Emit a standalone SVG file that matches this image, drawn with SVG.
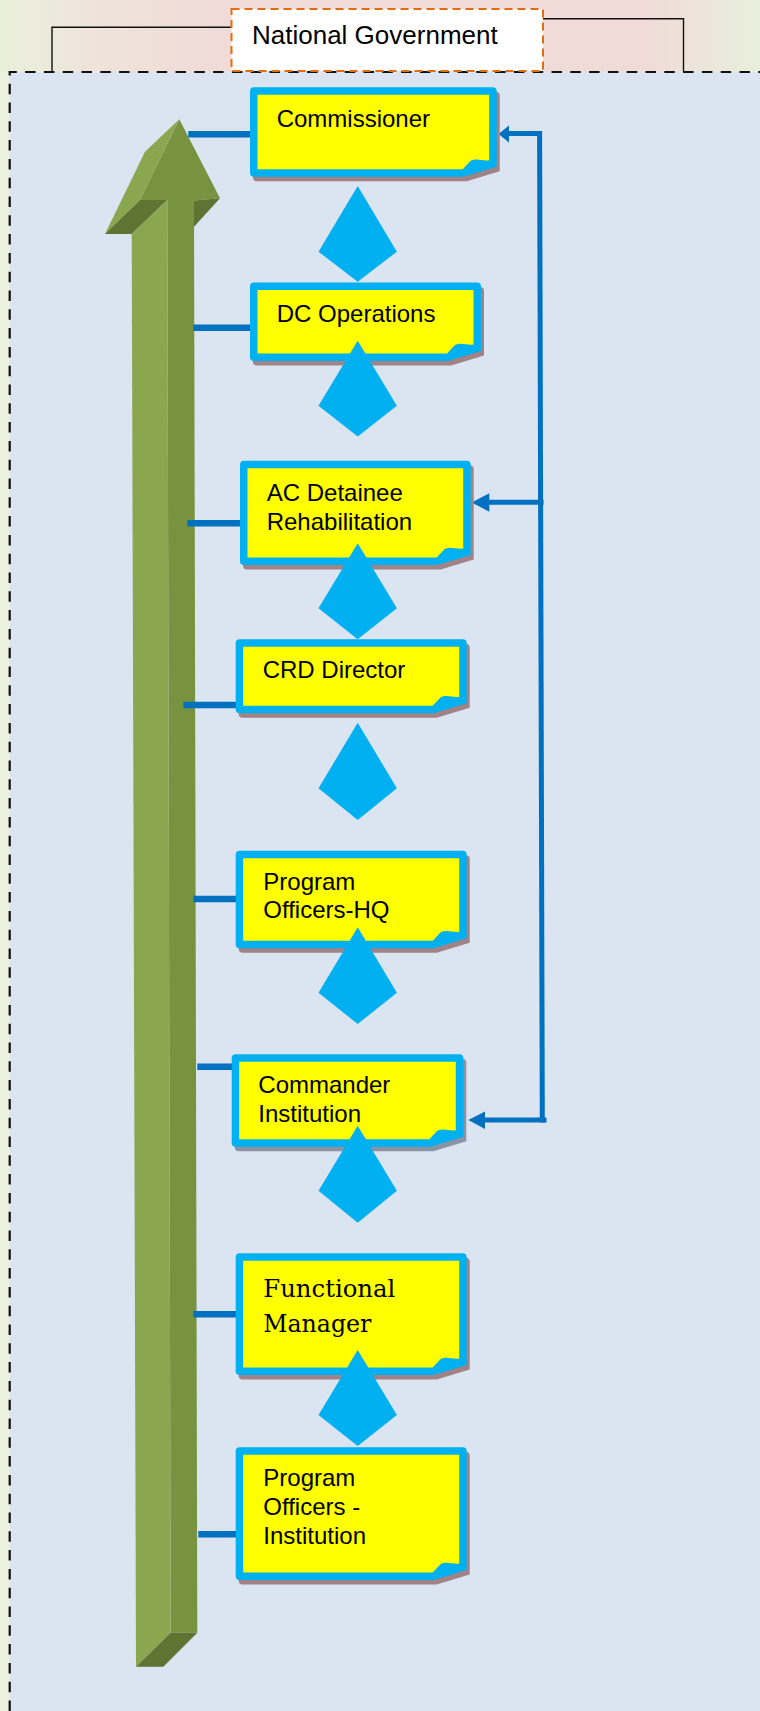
<svg xmlns="http://www.w3.org/2000/svg" width="760" height="1711" viewBox="0 0 760 1711">
  <defs>
    <linearGradient id="topBand" x1="0" y1="0" x2="1" y2="0">
      <stop offset="0" stop-color="#eaf0dc"/>
      <stop offset="0.12" stop-color="#eee4da"/>
      <stop offset="0.28" stop-color="#f0dbd8"/>
      <stop offset="0.85" stop-color="#f0dbd8"/>
      <stop offset="1" stop-color="#e8efdc"/>
    </linearGradient>
    <style>
      .panel { fill: #dbe5f1; }
      .border { fill: none; stroke: #111; stroke-width: 2.2; stroke-dasharray: 10.5 8.3; }
      .bracket { fill: none; stroke: #111; stroke-width: 1.4; }
      .govbox { fill: #fff; stroke: #e46c0a; stroke-width: 2; stroke-dasharray: 8 5; }
      .shadow { fill: #a08287; }
      .shadow-gray { fill: #8a93a6; }
      .frame { fill: #00b0f0; }
      .paper { fill: #ffff00; }
      .label { font-family: "Liberation Sans", Arial, sans-serif; font-size: 24px; fill: #000; }
      .label-serif { font-family: "DejaVu Serif", "Liberation Serif", serif; font-size: 24px; fill: #000; }
      .gov { font-family: "Liberation Sans", Arial, sans-serif; font-size: 26px; fill: #000; }
      .tie { stroke: #0070c0; stroke-width: 6.5; fill: none; }
      .feed { stroke: #0070c0; stroke-width: 5; fill: none; }
      .head { fill: #0070c0; }
      .link { fill: #00b0f0; }
      .g-light { fill: #8aa64f; }
      .g-mid { fill: #779340; }
      .g-dark { fill: #5f7333; }
    </style>
  </defs>

  <!-- page background -->
  <rect x="0" y="0" width="760" height="1711" fill="#ebf1de"/>
  <rect x="0" y="0" width="760" height="72" fill="url(#topBand)"/>
  <rect class="panel" x="9.7" y="72" width="751" height="1640"/>
  <path class="border" d="M9.7,1711 V72 H760"/>

  <!-- heading -->
  <g id="national-government">
    <path class="bracket" d="M52,72 V27.3 H232"/>
    <path class="bracket" d="M543,18.8 H683.5 V72"/>
    <rect class="govbox" x="231.5" y="9" width="311.5" height="62"/>
    <text class="gov" x="252" y="44.3">National Government</text>
  </g>

  <!-- upward 3D arrow -->
  <g id="arrow">
    <polygon class="g-mid" points="179.3,119.3 220,198.3 194,200.5 197.3,1632.7 170.7,1632.7 167.3,200 140,200"/>
    <polygon class="g-light" points="179.3,119.3 145,151.7 105,234 140,200"/>
    <polygon class="g-dark" points="105,234 131.7,234 167.3,200 140,200"/>
    <polygon class="g-dark" points="194,200.5 220,198.3 194,226.7"/>
    <polygon class="g-light" points="131.7,234 167.3,200 170.7,1632.7 136,1666.7"/>
    <polygon class="g-dark" points="136,1666.7 163.3,1666.7 197.3,1632.7 170.7,1632.7"/>
  </g>

  <!-- connectors -->
  <g id="connectors">
    <line class="tie" x1="188.3" y1="134.3" x2="252" y2="134.3"/>
    <line class="tie" x1="193.3" y1="327.7" x2="252" y2="327.7"/>
    <line class="tie" x1="187.3" y1="523.3" x2="242" y2="523.3"/>
    <line class="tie" x1="183.3" y1="705" x2="238" y2="705"/>
    <line class="tie" x1="193.3" y1="899" x2="238" y2="899"/>
    <line class="tie" x1="197.3" y1="1066.7" x2="234" y2="1066.7"/>
    <line class="tie" x1="193.3" y1="1314.3" x2="238" y2="1314.3"/>
    <line class="tie" x1="198.3" y1="1534.3" x2="238" y2="1534.3"/>

    <line class="feed" x1="539.6" y1="131" x2="542.3" y2="1122.5"/>
    <line class="feed" x1="542" y1="133.5" x2="506" y2="133.5"/>
    <line class="feed" x1="543.5" y1="502.3" x2="486" y2="502.3"/>
    <line class="feed" x1="546.5" y1="1120" x2="482" y2="1120"/>
    <polygon class="head" points="498.5,134 509,125.5 509,142.5"/>
    <polygon class="head" points="471.7,502.5 489.3,493.3 489.3,511.7"/>
    <polygon class="head" points="468.3,1120 485,1111.5 485,1129"/>
  </g>

  <g id="node-commissioner">
    <path class="shadow" transform="translate(3,4.5)" d="M254,87.3 H492.7 Q496.7,87.3 496.7,91.3 V166.7 L463.7,176.7 H254 Q250,176.7 250,172.7 V91.3 Q250,87.3 254,87.3 Z"/>
    <path class="frame" d="M254,87.3 H492.7 Q496.7,87.3 496.7,91.3 V166.7 L463.7,176.7 H254 Q250,176.7 250,172.7 V91.3 Q250,87.3 254,87.3 Z"/>
    <path class="paper" d="M257.5,94.8 H489.2 V160.2 C482.7,161.2 476.7,157.7 470.7,160.7 L462.7,169.2 H257.5 Z"/>
    <text class="label" x="276.7" y="126.7">Commissioner</text>
  </g>

  <g id="node-dc-operations">
    <path class="shadow" transform="translate(3,4.5)" d="M254,282.5 H477 Q481,282.5 481,286.5 V351 L448,361 H254 Q250,361 250,357 V286.5 Q250,282.5 254,282.5 Z"/>
    <path class="frame" d="M254,282.5 H477 Q481,282.5 481,286.5 V351 L448,361 H254 Q250,361 250,357 V286.5 Q250,282.5 254,282.5 Z"/>
    <path class="paper" d="M257.5,290 H473.5 V344.5 C467,345.5 461,342 455,345 L447,353.5 H257.5 Z"/>
    <text class="label" x="276.7" y="322">DC Operations</text>
  </g>

  <g id="node-ac-detainee-rehabilitation">
    <path class="shadow" transform="translate(3,4.5)" d="M244,460.7 H466.7 Q470.7,460.7 470.7,464.7 V555 L437.7,565 H244 Q240,565 240,561 V464.7 Q240,460.7 244,460.7 Z"/>
    <path class="frame" d="M244,460.7 H466.7 Q470.7,460.7 470.7,464.7 V555 L437.7,565 H244 Q240,565 240,561 V464.7 Q240,460.7 244,460.7 Z"/>
    <path class="paper" d="M247.5,468.2 H463.2 V548.5 C456.7,549.5 450.7,546 444.7,549 L436.7,557.5 H247.5 Z"/>
    <text class="label" x="266.7" y="501">AC Detainee</text>
    <text class="label" x="266.7" y="530">Rehabilitation</text>
  </g>

  <g id="node-crd-director">
    <path class="shadow" transform="translate(3,4.5)" d="M239.7,639.3 H462.7 Q466.7,639.3 466.7,643.3 V703.3 L433.7,713.3 H239.7 Q235.7,713.3 235.7,709.3 V643.3 Q235.7,639.3 239.7,639.3 Z"/>
    <path class="frame" d="M239.7,639.3 H462.7 Q466.7,639.3 466.7,643.3 V703.3 L433.7,713.3 H239.7 Q235.7,713.3 235.7,709.3 V643.3 Q235.7,639.3 239.7,639.3 Z"/>
    <path class="paper" d="M243.2,646.8 H459.2 V696.8 C452.7,697.8 446.7,694.3 440.7,697.3 L432.7,705.8 H243.2 Z"/>
    <text class="label" x="262.7" y="678.3">CRD Director</text>
  </g>

  <g id="node-program-officers-hq">
    <path class="shadow" transform="translate(3,4.5)" d="M239.7,850.7 H462.7 Q466.7,850.7 466.7,854.7 V938.3 L433.7,948.3 H239.7 Q235.7,948.3 235.7,944.3 V854.7 Q235.7,850.7 239.7,850.7 Z"/>
    <path class="frame" d="M239.7,850.7 H462.7 Q466.7,850.7 466.7,854.7 V938.3 L433.7,948.3 H239.7 Q235.7,948.3 235.7,944.3 V854.7 Q235.7,850.7 239.7,850.7 Z"/>
    <path class="paper" d="M243.2,858.2 H459.2 V931.8 C452.7,932.8 446.7,929.3 440.7,932.3 L432.7,940.8 H243.2 Z"/>
    <text class="label" x="263.3" y="890">Program</text>
    <text class="label" x="263.3" y="917.7">Officers-HQ</text>
  </g>

  <g id="node-commander-institution">
    <path class="shadow-gray" transform="translate(3,4.5)" d="M235.7,1054.3 H459.3 Q463.3,1054.3 463.3,1058.3 V1136.7 L430.3,1146.7 H235.7 Q231.7,1146.7 231.7,1142.7 V1058.3 Q231.7,1054.3 235.7,1054.3 Z"/>
    <path class="frame" d="M235.7,1054.3 H459.3 Q463.3,1054.3 463.3,1058.3 V1136.7 L430.3,1146.7 H235.7 Q231.7,1146.7 231.7,1142.7 V1058.3 Q231.7,1054.3 235.7,1054.3 Z"/>
    <path class="paper" d="M239.2,1061.8 H455.8 V1130.2 C449.3,1131.2 443.3,1127.7 437.3,1130.7 L429.3,1139.2 H239.2 Z"/>
    <text class="label" x="258.3" y="1093.3">Commander</text>
    <text class="label" x="258.3" y="1121.7">Institution</text>
  </g>

  <g id="node-functional-manager">
    <path class="shadow" transform="translate(3,4.5)" d="M239.7,1253.3 H462.7 Q466.7,1253.3 466.7,1257.3 V1365 L433.7,1375 H239.7 Q235.7,1375 235.7,1371 V1257.3 Q235.7,1253.3 239.7,1253.3 Z"/>
    <path class="frame" d="M239.7,1253.3 H462.7 Q466.7,1253.3 466.7,1257.3 V1365 L433.7,1375 H239.7 Q235.7,1375 235.7,1371 V1257.3 Q235.7,1253.3 239.7,1253.3 Z"/>
    <path class="paper" d="M243.2,1260.8 H459.2 V1358.5 C452.7,1359.5 446.7,1356 440.7,1359 L432.7,1367.5 H243.2 Z"/>
    <text class="label-serif" x="263.3" y="1296.7" textLength="132" lengthAdjust="spacingAndGlyphs">Functional</text>
    <text class="label-serif" x="263.3" y="1331.7" textLength="108" lengthAdjust="spacingAndGlyphs">Manager</text>
  </g>

  <g id="node-program-officers-institution">
    <path class="shadow" transform="translate(3,4.5)" d="M239.7,1447.3 H462.7 Q466.7,1447.3 466.7,1451.3 V1570 L433.7,1580 H239.7 Q235.7,1580 235.7,1576 V1451.3 Q235.7,1447.3 239.7,1447.3 Z"/>
    <path class="frame" d="M239.7,1447.3 H462.7 Q466.7,1447.3 466.7,1451.3 V1570 L433.7,1580 H239.7 Q235.7,1580 235.7,1576 V1451.3 Q235.7,1447.3 239.7,1447.3 Z"/>
    <path class="paper" d="M243.2,1454.8 H459.2 V1563.5 C452.7,1564.5 446.7,1561 440.7,1564 L432.7,1572.5 H243.2 Z"/>
    <text class="label" x="263.3" y="1486">Program</text>
    <text class="label" x="263.3" y="1515">Officers -</text>
    <text class="label" x="263.3" y="1543.5">Institution</text>
  </g>

  <!-- diamond links between successive levels -->
  <g id="links">
    <polygon class="link" points="357.7,186 396.9,251.7 357.7,281.7 318.5,251.7"/>
    <polygon class="link" points="357.7,340.7 396.9,405.7 357.7,436.5 318.5,405.7"/>
    <polygon class="link" points="357.7,543.3 396.9,608.3 357.7,639.3 318.5,608.3"/>
    <polygon class="link" points="357.7,722.7 396.9,788.3 357.7,820 318.5,788.3"/>
    <polygon class="link" points="357.7,927.3 396.9,992.7 357.7,1024 318.5,992.7"/>
    <polygon class="link" points="357.7,1125.7 396.9,1190.7 357.7,1222.7 318.5,1190.7"/>
    <polygon class="link" points="357.7,1350 396.9,1415 357.7,1446 318.5,1415"/>
  </g>
</svg>
